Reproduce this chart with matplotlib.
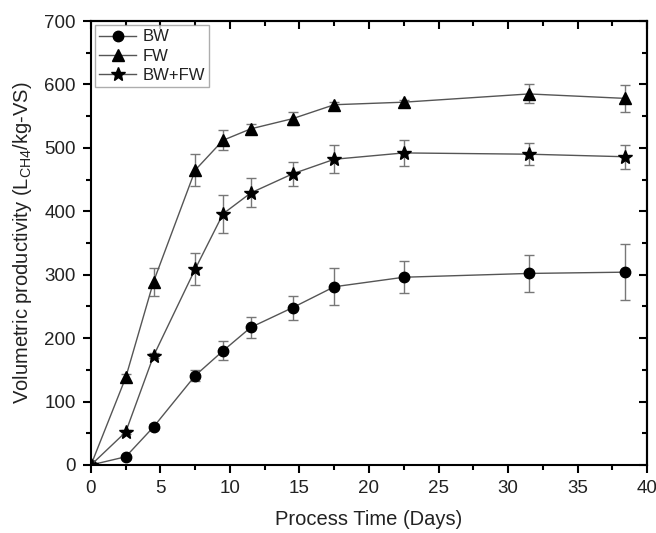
import matplotlib
matplotlib.use("Agg")
import matplotlib.pyplot as plt
from matplotlib.ticker import MultipleLocator
from matplotlib.lines import Line2D

plt.rcParams['font.family'] = ['Liberation Sans', 'DejaVu Sans']
plt.rcParams['mathtext.fontset'] = 'custom'
plt.rcParams['mathtext.rm'] = 'Liberation Sans'

days = [0, 2.5, 4.5, 7.5, 9.5, 11.5, 14.5, 17.5, 22.5, 31.5, 38.4]

bw = [0, 13, 60, 141, 180, 217, 248, 281, 296, 302, 304]
bw_err = [0, 3, 4, 9, 15, 17, 19, 29, 25, 29, 44]

fw = [0, 138, 289, 465, 512, 530, 546, 568, 572, 585, 578]
fw_err = [0, 6, 22, 25, 16, 8, 10, 4, 4, 15, 21]

bwfw = [0, 52, 172, 309, 396, 429, 459, 482, 492, 490, 486]
bwfw_err = [0, 3, 4, 26, 30, 23, 19, 22, 21, 17, 19]

labels = ['BW', 'FW', 'BW+FW']
markers = ['o', '^', '*']
sizes = [7.5, 9, 10]

fig = plt.figure(figsize=(6.56, 5.33), dpi=100)
ax = fig.add_axes([0.1387, 0.1276, 0.8476, 0.8330])

line_c = '#555555'
err_c = '#777777'
common = dict(color=line_c, lw=1.0, ecolor=err_c, elinewidth=1.0, capsize=3.5,
              capthick=1.0, mfc='black', mec='black')
for y, e, m, s in zip([bw, fw, bwfw], [bw_err, fw_err, bwfw_err], markers, sizes):
    ax.errorbar(days, y, yerr=e, marker=m, ms=s, **common)

ax.set_xlim(0, 40)
ax.set_ylim(0, 700)
ax.xaxis.set_major_locator(MultipleLocator(5))
ax.xaxis.set_minor_locator(MultipleLocator(2.5))
ax.yaxis.set_major_locator(MultipleLocator(100))
ax.yaxis.set_minor_locator(MultipleLocator(50))

for s in ax.spines.values():
    s.set_linewidth(1.5)
ax.tick_params(which='major', direction='out', length=6, width=1.5, labelsize=13.5, pad=5,
               colors='black', labelcolor='#222222')
ax.tick_params(which='minor', direction='out', length=3.5, width=1.5)

axt = ax.secondary_xaxis('top')
axt.xaxis.set_major_locator(MultipleLocator(5))
axt.xaxis.set_minor_locator(MultipleLocator(2.5))
axt.tick_params(which='major', direction='in', length=6, width=1.5, labeltop=False)
axt.tick_params(which='minor', direction='in', length=3.5, width=1.5)
axt.spines['top'].set_linewidth(1.5)
axr = ax.secondary_yaxis('right')
axr.yaxis.set_major_locator(MultipleLocator(100))
axr.yaxis.set_minor_locator(MultipleLocator(50))
axr.tick_params(which='major', direction='in', length=6, width=1.5, labelright=False)
axr.tick_params(which='minor', direction='in', length=3.5, width=1.5)
axr.spines['right'].set_linewidth(1.5)

ax.set_xlabel('Process Time (Days)', fontsize=14.5, color='#222222', labelpad=9)
ax.set_ylabel('Volumetric productivity (L$_{\\mathregular{CH4}}$/kg-VS)', fontsize=14.5,
              color='#222222', labelpad=7)

handles = [Line2D([], [], color=line_c, lw=1.0, marker=m, ms=s, mfc='black', mec='black')
           for m, s in zip(markers, sizes)]
leg = ax.legend(handles, labels, loc='upper left', fontsize=12, frameon=True, fancybox=False,
                edgecolor='#999999', borderpad=0.25, handlelength=2.2,
                labelspacing=0.25, handletextpad=0.4, borderaxespad=0.25)
leg.get_frame().set_linewidth(1.0)
for t in leg.get_texts():
    t.set_color('#222222')

fig.savefig('out.png', dpi=100)
